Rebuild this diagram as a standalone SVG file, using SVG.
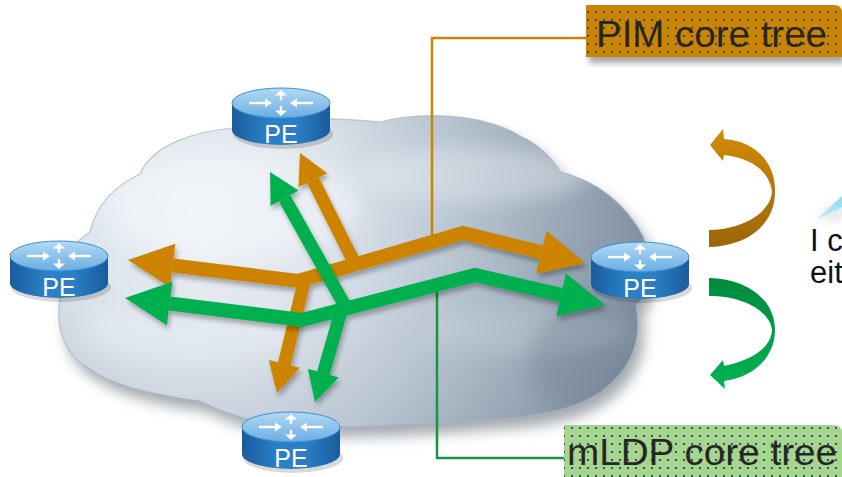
<svg xmlns="http://www.w3.org/2000/svg" xmlns:xlink="http://www.w3.org/1999/xlink" width="842" height="477" viewBox="0 0 842 477">
  <defs>
    <style>
      .pe-label { font-family: "Liberation Sans", Arial, sans-serif; font-size: 25px; fill: #ffffff; text-anchor: middle; }
      .box-label { font-family: "Liberation Sans", Arial, sans-serif; font-size: 36px; fill: #262626; }
      .note { font-family: "Liberation Sans", Arial, sans-serif; font-size: 31px; fill: #111111; }
      .orange-shaft { fill: none; stroke: #cc8400; stroke-width: 14; stroke-linejoin: miter; }
      .orange-branch { fill: none; stroke: #cc8400; stroke-width: 13; }
      .orange-head { fill: #cc8400; }
      .green-shaft { fill: none; stroke: #00b050; stroke-width: 14; stroke-linejoin: miter; }
      .green-branch { fill: none; stroke: #00b050; stroke-width: 13; }
      .green-head { fill: #00b050; }
      .glyph { stroke: #ffffff; stroke-width: 2.4; fill: none; }
      .glyph-head { fill: #ffffff; }
    </style>

    <!-- cloud shading -->
    <radialGradient id="cloudFill" cx="200" cy="215" r="470" gradientUnits="userSpaceOnUse">
      <stop offset="0" stop-color="#eef2f7"/>
      <stop offset="0.3" stop-color="#dbe2ea"/>
      <stop offset="0.55" stop-color="#b9c5d1"/>
      <stop offset="0.8" stop-color="#95a4b3"/>
      <stop offset="1" stop-color="#7b8b9b"/>
    </radialGradient>
    <filter id="cloudShadow" x="-10%" y="-10%" width="125%" height="130%">
      <feGaussianBlur stdDeviation="7"/>
    </filter>
    <filter id="soft" x="-30%" y="-30%" width="160%" height="160%">
      <feGaussianBlur stdDeviation="10"/>
    </filter>
    <filter id="arrowShadow" x="-10%" y="-10%" width="130%" height="130%">
      <feDropShadow dx="2" dy="4" stdDeviation="2.5" flood-color="#000000" flood-opacity="0.3"/>
    </filter>
    <filter id="boxShadow" x="-10%" y="-20%" width="130%" height="160%">
      <feDropShadow dx="3" dy="6" stdDeviation="3" flood-color="#000000" flood-opacity="0.35"/>
    </filter>

    <!-- router icon parts -->
    <linearGradient id="routerTop" x1="0" y1="0" x2="0" y2="1">
      <stop offset="0" stop-color="#b3d9f4"/>
      <stop offset="1" stop-color="#6aaee3"/>
    </linearGradient>
    <linearGradient id="routerSide" x1="0" y1="0" x2="1" y2="0">
      <stop offset="0" stop-color="#1a5c9c"/>
      <stop offset="0.35" stop-color="#2a7fc6"/>
      <stop offset="0.65" stop-color="#2a7fc6"/>
      <stop offset="1" stop-color="#1a5c9c"/>
    </linearGradient>
    <g id="router">
      <ellipse cx="2" cy="31" rx="50" ry="15" fill="#000000" opacity="0.15"/>
      <path d="M -49,0 V 27 A 49 15 0 0 0 49,27 V 0 Z" fill="url(#routerSide)"/>
      <ellipse cx="0" cy="0" rx="49" ry="15" fill="url(#routerTop)" stroke="#3d8fd4" stroke-width="1"/>
      <!-- arrows on the top face -->
      <line class="glyph" x1="-32" y1="0" x2="-14" y2="0"/>
      <polygon class="glyph-head" points="-9,0 -16,-4.5 -16,4.5"/>
      <line class="glyph" x1="32" y1="0" x2="14" y2="0"/>
      <polygon class="glyph-head" points="9,0 16,-4.5 16,4.5"/>
      <line class="glyph" x1="0" y1="-3" x2="0" y2="-8"/>
      <polygon class="glyph-head" points="0,-13 -6,-7.5 6,-7.5"/>
      <line class="glyph" x1="0" y1="3" x2="0" y2="8"/>
      <polygon class="glyph-head" points="0,13 -6,7.5 6,7.5"/>
    </g>

    <!-- dotted fills for the labels -->
    <pattern id="dotsOrange" width="8" height="8" patternUnits="userSpaceOnUse">
      <rect width="8" height="8" fill="#cc8400"/>
      <rect x="3" y="3" width="2" height="2" fill="#1d5878"/>
    </pattern>
    <pattern id="dotsGreen" width="8" height="8" patternUnits="userSpaceOnUse">
      <rect width="8" height="8" fill="#a8d58e"/>
      <rect x="3" y="3" width="2" height="2" fill="#1d5878"/>
    </pattern>

    <linearGradient id="turnOrange" x1="0" y1="0" x2="0" y2="1">
      <stop offset="0" stop-color="#d38a06"/>
      <stop offset="1" stop-color="#9c6608"/>
    </linearGradient>
    <linearGradient id="turnGreen" x1="0" y1="0" x2="0" y2="1">
      <stop offset="0" stop-color="#008a3e"/>
      <stop offset="1" stop-color="#00b352"/>
    </linearGradient>
    <linearGradient id="bubbleTail" x1="0" y1="1" x2="1" y2="0">
      <stop offset="0" stop-color="#c9eef8"/>
      <stop offset="1" stop-color="#8fdcf0"/>
    </linearGradient>

    <path id="cloudShape" d="M 60,300 C 55,270 68,246 90,232 C 96,205 115,186 140,174 C 152,146 192,131 235,128 C 280,116 340,118 380,122 C 420,112 482,112 520,136 C 540,145 552,158 560,172 C 596,180 626,204 643,236 C 652,262 650,292 636,306 C 642,338 632,366 610,384 C 590,406 540,418 490,419 C 440,423 360,429 300,426 C 258,426 222,412 200,401 C 160,396 112,386 90,369 C 66,356 55,330 60,300 Z"/>
  </defs>

  <!-- cloud -->
  <g id="cloud">
    <use href="#cloudShape" fill="#55606c" opacity="0.55" transform="translate(6,10)" filter="url(#cloudShadow)"/>
    <use href="#cloudShape" fill="url(#cloudFill)"/>
    <clipPath id="cloudClip"><use href="#cloudShape"/></clipPath>
    <g clip-path="url(#cloudClip)">
      <ellipse cx="230" cy="205" rx="130" ry="55" fill="#f4f7fb" opacity="0.55" filter="url(#soft)"/>
      <ellipse cx="470" cy="175" rx="120" ry="28" fill="#e6ecf2" opacity="0.45" filter="url(#soft)"/>
      <ellipse cx="520" cy="330" rx="110" ry="25" fill="#c7d2dc" opacity="0.4" filter="url(#soft)"/>
      <ellipse cx="190" cy="330" rx="110" ry="30" fill="#e8edf3" opacity="0.5" filter="url(#soft)"/>
      <ellipse cx="600" cy="360" rx="70" ry="60" fill="#6f7f90" opacity="0.35" filter="url(#soft)"/>
    </g>
    <use href="#cloudShape" fill="none" stroke="#a9b4bf" stroke-width="1.2" opacity="0.7"/>
  </g>

  <!-- connectors -->
  <g id="connectors">
    <!-- label leader lines -->
    <path d="M 432,236 V 38 H 588" fill="none" stroke="#cc8400" stroke-width="2.5"/>
    <path d="M 437,292 V 458 H 566" fill="none" stroke="#17963f" stroke-width="2.5"/>

    <!-- PIM tree (orange) -->
    <g id="pim-tree" filter="url(#arrowShadow)">
      <polyline class="orange-shaft" points="172.7,265.5 298,281 463,233 541.3,252.3"/>
      <polygon class="orange-head" points="128,260 175.4,243.7 170.0,287.3"/>
      <polygon class="orange-head" points="585,263 546.6,230.9 536.0,273.7"/>
      <line class="orange-branch" x1="357" y1="268" x2="312.9" y2="180.1"/>
      <polygon class="orange-head" points="300,153 327.3,173.2 298.5,187.0"/>
      <line class="orange-branch" x1="305" y1="278" x2="284.3" y2="363.9"/>
      <polygon class="orange-head" points="277,393 299.8,367.8 268.8,360.0"/>
    </g>

    <!-- mLDP tree (green) -->
    <g id="mldp-tree" filter="url(#arrowShadow)">
      <polyline class="green-shaft" points="169.6,303.5 302,320 475,275 561.1,294.9"/>
      <polygon class="green-head" points="125,298 172.3,281.7 166.9,325.3"/>
      <polygon class="green-head" points="605,305 566.0,273.5 556.2,316.3"/>
      <line class="green-branch" x1="349" y1="313" x2="284.6" y2="198.2"/>
      <polygon class="green-head" points="270,172 298.6,190.4 270.6,206.0"/>
      <line class="green-branch" x1="342" y1="308" x2="323.3" y2="373.2"/>
      <polygon class="green-head" points="315,402 338.7,377.6 307.9,368.8"/>
    </g>

    <!-- turn-around arrows -->
    <path d="M 709,230 C 745,229 770,212 772,192 C 770,172 752,158 724,155 L 723,161 L 710,145 L 723,129 L 724,139 C 757,141 776,165 775,192 C 775,224 748,246 709,247 Z" fill="url(#turnOrange)"/>
    <path d="M 709,278 C 748,279 775,300 775,330 C 775,358 752,378 724,381 L 725,389 L 710,375 L 723,360 L 724,366 C 752,360 771,348 772,330 C 770,312 745,296 709,296 Z" fill="url(#turnGreen)"/>
  </g>

  <!-- PE routers -->
  <g id="pe-top">
    <use href="#router" x="281" y="103"/>
    <text class="pe-label" x="281" y="143">PE</text>
  </g>
  <g id="pe-left">
    <use href="#router" x="59" y="256"/>
    <text class="pe-label" x="59" y="296">PE</text>
  </g>
  <g id="pe-right">
    <use href="#router" x="640" y="257"/>
    <text class="pe-label" x="640" y="297">PE</text>
  </g>
  <g id="pe-bottom">
    <use href="#router" x="291" y="427"/>
    <text class="pe-label" x="291" y="467">PE</text>
  </g>

  <!-- labels -->
  <g id="label-pim">
    <path d="M 586,5 H 834 Q 842,5 842,13 V 57 H 586 Z" fill="url(#dotsOrange)" filter="url(#boxShadow)"/>
    <text class="box-label" x="596" y="47" textLength="231" lengthAdjust="spacingAndGlyphs">PIM core tree</text>
  </g>
  <g id="label-mldp">
    <path d="M 564,425 H 834 Q 842,425 842,433 V 477 H 564 Z" fill="url(#dotsGreen)"/>
    <text class="box-label" x="567" y="465" textLength="270" lengthAdjust="spacingAndGlyphs">mLDP core tree</text>
  </g>

  <!-- speech note, cut by the frame -->
  <g id="note">
    <polygon points="817,221 842,203 842,215" fill="#000000" opacity="0.25" filter="url(#cloudShadow)"/>
    <polygon points="816,220 842,196 842,207" fill="url(#bubbleTail)"/>
    <text class="note" x="810" y="251">I c</text>
    <text class="note" x="810" y="283">eit</text>
  </g>
</svg>
